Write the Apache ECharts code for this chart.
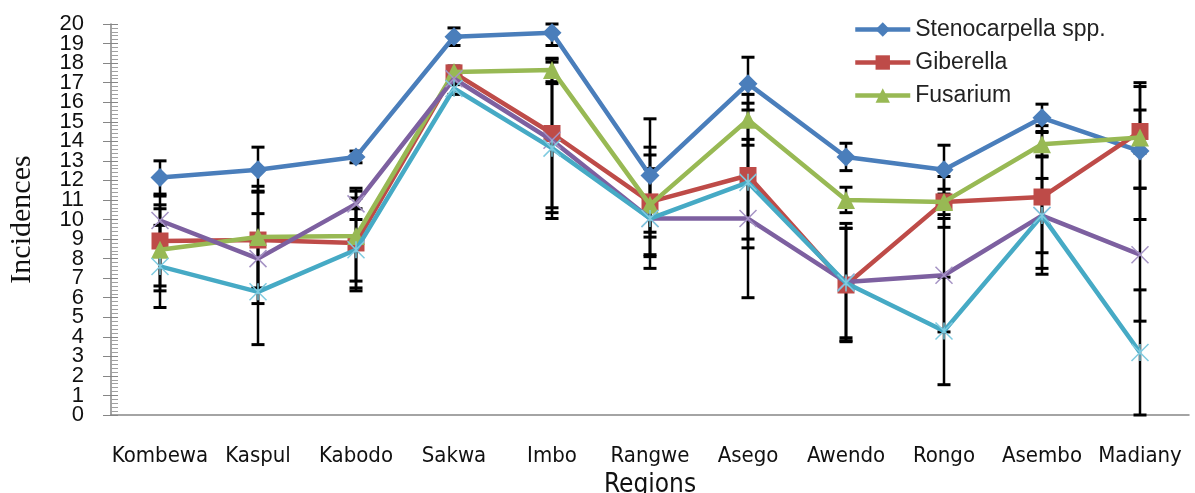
<!DOCTYPE html>
<html>
<head>
<meta charset="utf-8">
<script src="https://cdn.jsdelivr.net/npm/echarts@6/dist/echarts.min.js"></script>
<style>
html,body{margin:0;padding:0;background:#fff;}
#chart{width:1195px;height:493px;}
</style>
</head>
<body>
<div id="chart"></div>
<script>
// ---- data ----
const regions = ['Kombewa','Kaspul','Kabodo','Sakwa','Imbo','Rangwe','Asego','Awendo','Rongo','Asembo','Madiany'];
const seriesNames = ['Stenocarpella spp.','Giberella','Fusarium','Series 4','Series 5'];
const steno   = [12.15, 12.55, 13.2, 19.35, 19.55, 12.25, 16.95, 13.2, 12.55, 15.2, 13.5];
const giber   = [8.9, 8.95, 8.8, 17.5, 14.4, 10.9, 12.25, 6.65, 10.9, 11.15, 14.5];
const fusar   = [8.45, 9.1, 9.15, 17.55, 17.65, 10.75, 15.1, 11.0, 10.9, 13.85, 14.2];
const purple  = [9.95, 8.0, 10.8, 17.2, 14.05, 10.05, 10.05, 6.8, 7.15, 10.2, 8.2];
const cyan    = [7.6, 6.3, 8.45, 16.7, 13.65, 10.05, 11.9, 6.75, 4.3, 10.2, 3.2];
const errSteno  = [0.85, 1.15, 0.3, 0.45, 0.65, 2.9, 1.35, 0.7, 1.25, 0.7, 3.5];
const errGiber  = [2.3, 2.5, 2.3, 0.3, 3.8, 2.8, 3.7, 2.9, 1.3, 3.65, 1.1];
const errFusar  = [2.1, 2.6, 2.3, 0.3, 0.6, 2.55, 1.3, 0.65, 0.65, 0.6, 2.6];
const errPurple = [0.8, 2.3, 0.8, 0.3, 4.0, 2.55, 4.05, 3.0, 2.9, 1.9, 3.4];
const errCyan   = [2.1, 2.7, 2.1, 0.3, 3.3, 0.95, 2.9, 2.8, 2.75, 3.0, 3.2];
const yTicks = ['0','1','2','3','4','5','6','7','8','9','10','11','12','13','14','15','16','17','18','19','20'];

const values = [steno, giber, fusar, purple, cyan];
const errors = [errSteno, errGiber, errFusar, errPurple, errCyan];
const colors = ['#4A7EBB','#BE4B48','#98B954','#7D60A0','#46AAC5'];
const markerColors = ['#4A7EBB','#BE4B48','#98B954','#A593C4','#7FCBE0'];
const symbols = ['diamond','rect','triangle','path://M0,0L10,10M10,0L0,10','path://M0,0L10,10M10,0L0,10M5,0L5,10'];
const symbolSizes = [19, 17, 18, 17, 17];
const condensed = "'DejaVu Sans Condensed', 'Liberation Sans', sans-serif";

const chart = echarts.init(document.getElementById('chart'), null, {renderer:'canvas'});

const errData = [];
values.forEach((vals, s) => {
  vals.forEach((v, i) => errData.push([i, v, errors[s][i]]));
});

const series = [];
series.push({
  type: 'custom',
  name: 'errors',
  z: 1,
  silent: true,
  renderItem: function (params, api) {
    const i = api.value(0), v = api.value(1), e = api.value(2);
    const lo = Math.max(0, v - e), hi = Math.min(20, v + e);
    const p1 = api.coord([i, hi]);
    const p2 = api.coord([i, lo]);
    const hw = 6.5;
    const children = [
      {type:'line', shape:{x1:p1[0], y1:p1[1], x2:p2[0], y2:p2[1]}, style: {stroke:'#000', lineWidth:2.5}},
      {type:'line', shape:{x1:p1[0]-hw, y1:p1[1], x2:p1[0]+hw, y2:p1[1]}, style: {stroke:'#000', lineWidth:3}},
      {type:'line', shape:{x1:p2[0]-hw, y1:p2[1], x2:p2[0]+hw, y2:p2[1]}, style: {stroke:'#000', lineWidth:3}}
    ];
    return {type:'group', children: children};
  },
  encode: {x: 0, y: 1},
  data: errData
});

values.forEach((vals, s) => {
  const isLine = s >= 3;
  series.push({
    type: 'line',
    name: seriesNames[s],
    data: vals,
    z: 2 + s,
    symbol: symbols[s],
    symbolSize: symbolSizes[s],
    showAllSymbol: true,
    lineStyle: {color: colors[s], width: 4.5},
    itemStyle: isLine
      ? {color: markerColors[s], borderColor: markerColors[s], borderWidth: 1.5, opacity: 1}
      : {color: colors[s], borderColor: colors[s], borderWidth: 0},
    emphasis: {disabled: true},
    animation: false
  });
});

const yLabelStyle = {fontFamily: 'Liberation Sans', fontSize: 22, color: '#111', margin: 27, hideOverlap: false};

chart.setOption({
  animation: false,
  backgroundColor: '#fff',
  grid: {left: 111, right: 6, top: 24, bottom: 78, containLabel: false, outerBoundsMode: 'none'},
  legend: {
    data: seriesNames.slice(0, 3),
    orient: 'vertical',
    left: 848,
    top: 13,
    itemWidth: 55,
    itemHeight: 18,
    itemGap: 10,
    lineStyle: {width: 4.5},
    textStyle: {fontFamily: 'Liberation Sans', fontSize: 23, color: '#222'}
  },
  xAxis: {
    type: 'category',
    data: regions,
    boundaryGap: true,
    name: 'Regions',
    nameLocation: 'middle',
    nameGap: 45,
    nameTextStyle: {fontFamily: condensed, fontSize: 26, color: '#111'},
    axisLine: {lineStyle: {color: '#868686', width: 1.5}},
    axisTick: {show: false},
    axisLabel: {fontFamily: condensed, fontSize: 22, color: '#111', margin: 30, interval: 0}
  },
  yAxis: [{
    type: 'value',
    min: 0, max: 20, interval: 1,
    name: 'Incidences',
    nameLocation: 'middle',
    nameGap: 74,
    nameRotate: 90,
    nameTextStyle: {fontFamily: 'Liberation Serif', fontSize: 30, color: '#111'},
    axisLine: {show: true, lineStyle: {color: '#868686', width: 1.5}},
    axisTick: {show: true, inside: true, length: 7, lineStyle: {color: '#868686'}},
    minorTick: {show: true, splitNumber: 5, length: 7, lineStyle: {color: '#A0A0A0'}},
    splitLine: {show: false},
    axisLabel: Object.assign({}, yLabelStyle, {
      showMinLabel: true, showMaxLabel: true,
      formatter: function (v) { const k = Math.round(v); return k % 2 === 0 ? yTicks[k] : ''; }
    })
  }, {
    type: 'value',
    min: 0, max: 20, interval: 1,
    position: 'left',
    axisLine: {show: false},
    axisTick: {show: false},
    splitLine: {show: false},
    axisLabel: Object.assign({}, yLabelStyle, {
      showMinLabel: false, showMaxLabel: false,
      formatter: function (v) { const k = Math.round(v); return k % 2 === 1 ? yTicks[k] : ''; }
    })
  }, {
    type: 'value',
    min: 0, max: 20, interval: 1,
    position: 'left',
    axisLine: {show: false},
    axisTick: {show: true, inside: false, length: 8, lineStyle: {color: '#868686'}},
    axisLabel: {show: false},
    splitLine: {show: false}
  }],
  series: series
});
</script>
</body>
</html>
